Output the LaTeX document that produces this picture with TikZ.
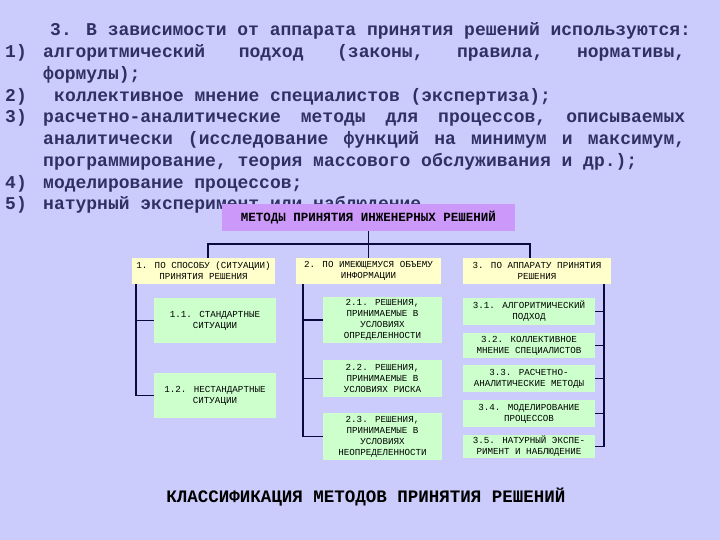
\documentclass[tikz,border=0pt]{standalone}
\usepackage{fontspec}
\newfontfamily\monof{Liberation Mono}
\definecolor{bgc}{RGB}{204,204,252}
\definecolor{txc}{RGB}{48,48,100}
\definecolor{purp}{RGB}{204,153,250}
\definecolor{yel}{RGB}{255,255,204}
\definecolor{grn}{RGB}{204,255,204}
\definecolor{lnc}{RGB}{10,10,60}
\tikzset{
  para/.style={anchor=base west, inner sep=0pt, text=txc, font=\monof\bfseries\fontsize{18}{20}\selectfont},
  boxbase/.style={inner sep=0pt, align=center, text=black, font=\monof\fontsize{9.2}{11}\selectfont},
  topbox/.style={boxbase, fill=purp, font=\monof\bfseries\fontsize{12.5}{14}\selectfont},
  ybox/.style={boxbase, fill=yel},
  gbox/.style={boxbase, fill=grn},
  conn/.style={draw=lnc, line width=1.3pt},
  caption/.style={inner sep=0pt, text=black, font=\monof\bfseries\fontsize{17.5}{20}\selectfont}
}
\begin{document}
\begin{tikzpicture}[x=1pt,y=-1pt]
\useasboundingbox (0,0) rectangle (720,540);
\fill[bgc] (0,0) rectangle (720,540);
% paragraph text
\node[para] (t1) at (50,36) {3. В зависимости от аппарата принятия решений используются:};
\node[para] (n1) at (5,57.75) {1)};
\node[para] (t2) at (43,57.75) {\hbox to 642pt{алгоритмический\hfill подход\hfill (законы,\hfill правила,\hfill нормативы,}};
\node[para] (t3) at (43,79.5) {формулы);};
\node[para] (n2) at (5,101.25) {2)};
\node[para] (t4) at (54,101.25) {коллективное мнение специалистов (экспертиза);};
\node[para] (n3) at (5,123) {3)};
\node[para] (t5) at (43,123) {\hbox to 642pt{расчетно-аналитические\hfill методы\hfill для\hfill процессов,\hfill описываемых}};
\node[para] (t6) at (43,144.75) {\hbox to 642pt{аналитически\hfill (исследование\hfill функций\hfill на\hfill минимум\hfill и\hfill максимум,}};
\node[para] (t7) at (43,166.5) {программирование, теория массового обслуживания и др.);};
\node[para] (n4) at (5,188.25) {4)};
\node[para] (t8) at (43,188.25) {моделирование процессов;};
\node[para] (n5) at (5,210) {5)};
\node[para] (t9) at (43,210) {натурный эксперимент или наблюдение};
% diagram
\node[topbox, minimum width=293pt, minimum height=27pt] (top) at (368.5,217.5) {МЕТОДЫ ПРИНЯТИЯ ИНЖЕНЕРНЫХ РЕШЕНИЙ};
\node[ybox, minimum width=143pt, minimum height=26pt] (b1) at (203.5,271) {1. ПО СПОСОБУ (СИТУАЦИИ)\\ПРИНЯТИЯ РЕШЕНИЯ};
\node[ybox, minimum width=145pt, minimum height=26pt] (b2) at (368.5,271) {2. ПО ИМЕЮЩЕМУСЯ ОБЪЕМУ\\ИНФОРМАЦИИ};
\node[ybox, minimum width=148pt, minimum height=26pt] (b3) at (537,271) {3. ПО АППАРАТУ ПРИНЯТИЯ\\РЕШЕНИЯ};
\node[gbox, minimum width=122pt, minimum height=45pt] (l11) at (215,320.5) {1.1. СТАНДАРТНЫЕ\\СИТУАЦИИ};
\node[gbox, minimum width=122pt, minimum height=45pt] (l12) at (215,395.5) {1.2. НЕСТАНДАРТНЫЕ\\СИТУАЦИИ};
\node[gbox, minimum width=119pt, minimum height=46pt] (m21) at (382.5,320) {2.1. РЕШЕНИЯ,\\ПРИНИМАЕМЫЕ В\\УСЛОВИЯХ\\ОПРЕДЕЛЕННОСТИ};
\node[gbox, minimum width=119pt, minimum height=37pt] (m22) at (382.5,378.5) {2.2. РЕШЕНИЯ,\\ПРИНИМАЕМЫЕ В\\УСЛОВИЯХ РИСКА};
\node[gbox, minimum width=119pt, minimum height=47pt] (m23) at (382.5,436.5) {2.3. РЕШЕНИЯ,\\ПРИНИМАЕМЫЕ В\\УСЛОВИЯХ\\НЕОПРЕДЕЛЕННОСТИ};
\node[gbox, minimum width=132pt, minimum height=27pt] (r31) at (529,311.5) {3.1. АЛГОРИТМИЧЕСКИЙ\\ПОДХОД};
\node[gbox, minimum width=132pt, minimum height=25pt] (r32) at (529,345.5) {3.2. КОЛЛЕКТИВНОЕ\\МНЕНИЕ СПЕЦИАЛИСТОВ};
\node[gbox, minimum width=132pt, minimum height=27pt] (r33) at (529,378.5) {3.3. РАСЧЕТНО-\\АНАЛИТИЧЕСКИЕ МЕТОДЫ};
\node[gbox, minimum width=132pt, minimum height=27pt] (r34) at (529,413.5) {3.4. МОДЕЛИРОВАНИЕ\\ПРОЦЕССОВ};
\node[gbox, minimum width=132pt, minimum height=23pt] (r35) at (529,446.5) {3.5. НАТУРНЫЙ ЭКСПЕ-\\РИМЕНТ И НАБЛЮДЕНИЕ};
% connectors
\coordinate (busL) at (208,244);
\coordinate (busR) at (530,244);
\coordinate (lv) at (136,284);
\coordinate (mv) at (303,284);
\coordinate (rv) at (604,284);
\draw[conn] (top.south) -- (b2.north);
\draw[conn] (b1.north -| busL) -- (busL) -- (busR) -- (b3.north -| busR);
\draw[conn] (b1.south -| lv) |- (l12.west);
\draw[conn] (lv |- l11.west) -- (l11.west);
\draw[conn] (b2.south -| mv) |- (m23.west);
\draw[conn] (mv |- m21.west) -- (m21.west);
\draw[conn] (mv |- m22.west) -- (m22.west);
\draw[conn] (b3.south -| rv) |- (r35.east);
\draw[conn] (rv |- r31.east) -- (r31.east);
\draw[conn] (rv |- r32.east) -- (r32.east);
\draw[conn] (rv |- r33.east) -- (r33.east);
\draw[conn] (rv |- r34.east) -- (r34.east);
\node[caption] (cap) at (366,497) {КЛАССИФИКАЦИЯ МЕТОДОВ ПРИНЯТИЯ РЕШЕНИЙ};
\end{tikzpicture}
\end{document}
